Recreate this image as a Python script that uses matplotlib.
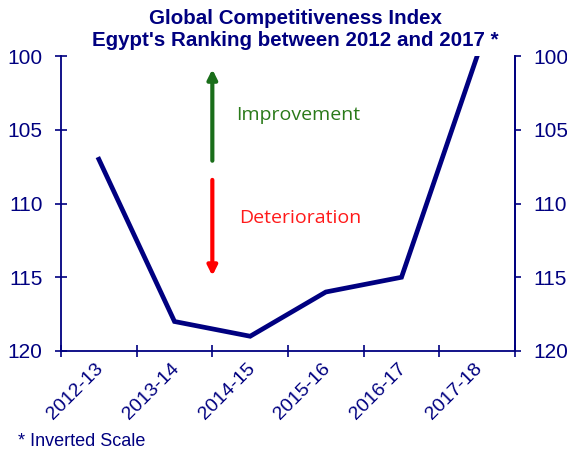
import matplotlib
matplotlib.use("Agg")
import matplotlib.pyplot as plt
import matplotlib.transforms as mtransforms
import numpy as np

categories = ["2012-13", "2013-14", "2014-15", "2015-16", "2016-17", "2017-18"]
ranking = [107, 118, 119, 116, 115, 100]
yticks = [100, 105, 110, 115, 120]

navy = "#000080"
plt.rcParams['font.family'] = ['Liberation Sans', 'DejaVu Sans']

fig = plt.figure(figsize=(5.67, 4.53), dpi=100)
ax = fig.add_axes([61/567, 1-351/453, (515-61)/567, (351-56)/453])

x = np.arange(len(categories))
ax.plot(x, ranking, color=navy, lw=3.4, solid_joinstyle='miter', clip_on=True)
ax.set_xlim(-0.5, len(categories) - 0.5)
ax.set_ylim(120, 100)
ax.set_yticks(yticks)
ax.set_yticklabels([str(v) for v in yticks])

ax.set_xticks(np.arange(-0.5, len(categories)), minor=False)
ax.set_xticklabels([""] * (len(categories) + 1))
ax.set_xticks(x, minor=True)
ax.set_xticklabels(categories, minor=True, rotation=45, ha='right', va='top', rotation_mode='anchor')
ax.tick_params(axis='x', which='minor', length=0, pad=8, labelsize=14, labelcolor=navy)
ax.tick_params(axis='x', which='major', direction='inout', length=8, color=navy, width=1.2)
ax.tick_params(axis='y', direction='inout', length=8.5, color=navy, width=1.2, labelsize=15, labelcolor=navy, pad=9)
offset = mtransforms.ScaledTranslation(-4/100, 2/100, fig.dpi_scale_trans)
for lbl in ax.get_xticklabels(minor=True):
    lbl.set_transform(lbl.get_transform() + offset)

ax.spines['top'].set_visible(False)
for s in ['left', 'bottom', 'right']:
    ax.spines[s].set_color(navy)
    ax.spines[s].set_linewidth(1.3)

ax2 = ax.twinx()
ax2.set_ylim(120, 100)
ax2.set_yticks(yticks)
ax2.set_yticklabels([str(v) for v in yticks])
ax2.tick_params(axis='y', direction='out', length=4, color=navy, width=1.2, labelsize=15, labelcolor=navy, pad=9)
ax2.spines['top'].set_visible(False)
ax2.spines['right'].set_color(navy)
ax2.spines['right'].set_linewidth(1.3)
ax2.spines['left'].set_visible(False)
ax2.spines['bottom'].set_visible(False)

# arrows
ax.annotate("", xy=(1.5, 100.9), xytext=(1.5, 107.1),
            arrowprops=dict(arrowstyle="-|>", color="#1a6e1a", lw=3, mutation_scale=14, shrinkA=0, shrinkB=0))
ax.annotate("", xy=(1.5, 114.9), xytext=(1.5, 108.4),
            arrowprops=dict(arrowstyle="-|>", color="#ff0000", lw=3, mutation_scale=14, shrinkA=0, shrinkB=0))
ax.text(1.82, 104.0, "Improvement", color="#2a7a1a", fontsize=14, family=['Open Sans', 'DejaVu Sans'], va='center', ha='left')
ax.text(1.86, 111.0, "Deterioration", color="#ff1a1a", fontsize=14, family=['Open Sans', 'DejaVu Sans'], va='center', ha='left')

fig.text(295/567, 1-18/453, "Global Competitiveness Index", ha='center', va='center', fontsize=14.8, fontweight='bold', color=navy)
fig.text(295/567, 1-40/453, "Egypt's Ranking between 2012 and 2017 *", ha='center', va='center', fontsize=14.8, fontweight='bold', color=navy)
fig.text(18/567, 1-441/453, "* Inverted Scale", ha='left', va='center', fontsize=13, color=navy)

fig.savefig("out.png", dpi=100)
